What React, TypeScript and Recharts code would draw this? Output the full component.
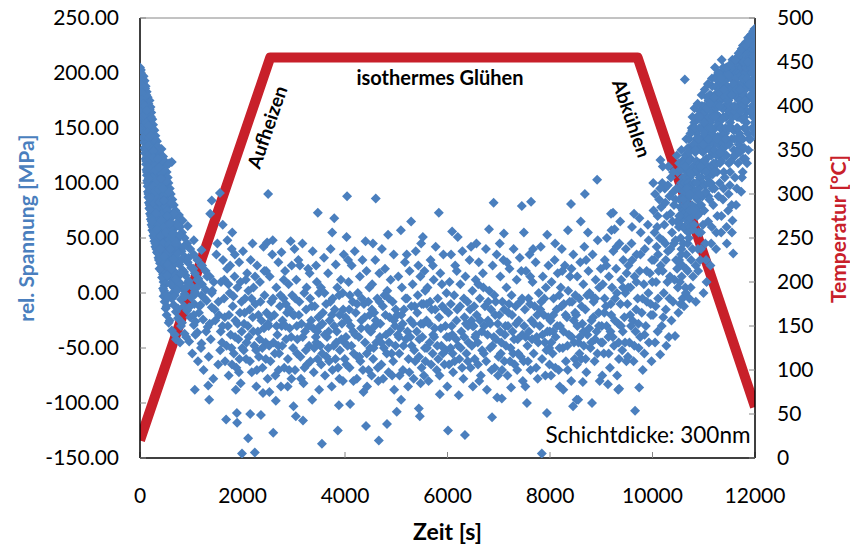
import { ComposedChart, Scatter, Line, XAxis, YAxis, ReferenceLine, ReferenceDot, Label } from 'recharts';

const timeTicks = [0, 2000, 4000, 6000, 8000, 10000, 12000];
const stressTicks = [-150, -100, -50, 0, 50, 100, 150, 200, 250];
const tempTicks = [0, 50, 100, 150, 200, 250, 300, 350, 400, 450, 500];

// temperature program: heating, isothermal hold, cooling
const tempTime = [0, 2540, 9710, 12000];
const tempValue = [20, 455, 455, 58];

// relative stress [t (s), stress (MPa)] during heating
const heatingPoints: [number, number][] = [
  [0, 205], [15, 203], [5, 200], [28, 198], [0, 196], [40, 194], [70, 197], [8, 191], [50, 189], [90, 193],
  [3, 187], [35, 185], [75, 184], [110, 188], [12, 182], [55, 180], [95, 179], [130, 183], [18, 177], [60, 175],
  [105, 174], [150, 178], [22, 172], [70, 170], [115, 169], [165, 172], [185, 175], [25, 167], [80, 165], [125, 164],
  [175, 166], [205, 169], [30, 162], [90, 160], [140, 159], [190, 161], [220, 164], [40, 157], [100, 155], [150, 154],
  [200, 156], [240, 158], [48, 152], [110, 150], [165, 149], [215, 151], [255, 153], [58, 147], [120, 145], [180, 144],
  [230, 146], [280, 148], [68, 142], [130, 140], [190, 139], [250, 141], [300, 143], [78, 137], [140, 135], [205, 134],
  [265, 136], [330, 138], [88, 132], [150, 130], [215, 129], [280, 131], [350, 133], [98, 127], [160, 125], [230, 124],
  [300, 126], [370, 128], [420, 131], [108, 122], [170, 120], [240, 119], [315, 121], [390, 123], [450, 124], [118, 117],
  [185, 115], [255, 114], [330, 116], [405, 118], [480, 120], [620, 119], [125, 112], [195, 110], [270, 109], [345, 111],
  [420, 113], [500, 115], [570, 118], [135, 107], [210, 105], [285, 104], [360, 106], [440, 108], [520, 110], [142, 102],
  [220, 100], [300, 99], [380, 101], [460, 103], [540, 105], [150, 97], [230, 95], [315, 94], [395, 96], [475, 98],
  [555, 100], [155, 92], [240, 90], [325, 89], [410, 91], [495, 93], [580, 95], [162, 87], [250, 85], [340, 84],
  [425, 86], [510, 88], [600, 90], [172, 82], [262, 80], [352, 79], [445, 81], [530, 83], [630, 85], [182, 77],
  [275, 75], [368, 74], [460, 76], [550, 78], [660, 80], [195, 72], [290, 70], [385, 69], [480, 71], [575, 73],
  [690, 75], [760, 71], [210, 67], [305, 65], [400, 64], [500, 66], [600, 68], [720, 70], [830, 66], [225, 62],
  [320, 60], [420, 59], [520, 61], [625, 63], [750, 65], [240, 57], [340, 55], [440, 54], [545, 56], [655, 58],
  [780, 60], [930, 61], [260, 52], [360, 50], [465, 49], [570, 51], [685, 53], [820, 55], [280, 47], [385, 45],
  [490, 44], [600, 46], [720, 48], [870, 50], [1050, 48], [300, 42], [410, 40], [520, 39], [635, 41], [760, 43],
  [920, 45], [330, 37], [440, 35], [555, 34], [675, 36], [810, 38], [980, 40], [1200, 39], [360, 32], [470, 30],
  [590, 29], [720, 31], [870, 33], [1050, 35], [390, 27], [500, 25], [630, 24], [770, 26], [930, 28], [1120, 30],
  [420, 22], [540, 20], [680, 19], [830, 21], [1000, 23], [1200, 25], [450, 17], [580, 15], [730, 14], [890, 16],
  [1070, 18], [1280, 20], [470, 12], [620, 10], [780, 9], [950, 11], [1140, 13], [1360, 15], [480, 7], [660, 5],
  [830, 4], [1010, 6], [1210, 8], [1440, 10], [470, 2], [640, 0], [870, -1], [1070, 1], [1280, 3], [460, -3],
  [620, -5], [800, -6], [1000, -4], [1200, -2], [1400, 0], [480, -8], [660, -11], [860, -12], [1060, -10], [1300, -7],
  [500, -14], [700, -17], [920, -16], [1150, -18], [1400, -13], [520, -20], [740, -23], [980, -22], [1230, -24], [560, -27],
  [800, -30], [1050, -29], [1320, -31], [620, -34], [870, -37], [1120, -36], [700, -42], [780, -45], [960, -44], [1200, -46],
  [1400, 84], [1370, 72], [1560, 91], [1020, -55], [1080, -38], [1130, -62], [1190, -50], [1240, -70], [1290, -35], [1340, -58],
  [1380, -42], [1430, -78], [1470, -25], [1050, -20], [1110, 5], [1160, -12], [1210, 25], [1260, -5], [1310, 15], [1360, -28],
  [1410, 2], [1455, -15], [1490, 35], [1070, -88], [1330, -84], [1350, -97],
  [10, 202], [20, 194], [60, 191], [100, 186], [30, 180], [80, 177], [125, 180], [40, 170], [95, 167], [150, 170],
  [190, 167], [50, 160], [115, 157], [170, 158], [215, 160], [60, 150], [135, 148], [200, 147], [250, 149], [80, 140],
  [160, 138], [225, 137], [290, 140], [100, 130], [180, 128], [250, 127], [325, 130], [120, 120], [200, 118], [280, 117],
  [360, 120], [430, 121], [135, 110], [220, 108], [310, 107], [395, 109], [470, 112], [150, 100], [245, 98], [340, 97],
  [430, 99], [515, 102], [165, 90], [270, 88], [370, 87], [465, 89], [560, 92], [190, 80], [300, 78], [405, 77],
  [505, 79], [610, 82], [215, 70], [330, 68], [445, 67], [550, 69], [660, 72], [245, 60], [365, 58], [485, 57],
  [600, 59], [720, 62], [280, 50], [405, 48], [530, 47], [650, 49], [780, 52], [320, 40], [450, 38], [580, 37],
  [700, 39], [850, 42], [370, 30], [500, 28], [640, 27], [780, 29], [950, 32], [420, 20], [560, 18], [700, 17],
  [860, 19], [1040, 22], [460, 10], [600, 8], [760, 7], [930, 9], [1120, 12], [490, 0], [680, -2], [880, -3],
  [1080, -1], [520, -12], [740, -14], [960, -13], [1180, -11], [580, -25], [820, -27], [1080, -26], [680, -38], [900, -40],
  [5, 199], [12, 193], [25, 189], [45, 182], [35, 176], [65, 172], [50, 166], [85, 170], [75, 161], [105, 163],
  [130, 166], [90, 153], [125, 155], [160, 152], [110, 143], [145, 146], [175, 141], [210, 143], [125, 133], [170, 134],
  [200, 126], [235, 131], [265, 129], [140, 124], [190, 122], [220, 113], [265, 123], [295, 115], [345, 122], [160, 114],
  [240, 105], [300, 112], [330, 102], [375, 114], [410, 104], [170, 104], [200, 94], [260, 97], [290, 92], [360, 94],
  [400, 85], [445, 95], [185, 86], [220, 78], [280, 82], [320, 76], [380, 83], [420, 72], [470, 84], [520, 75],
  [200, 76], [250, 68], [310, 72], [350, 62], [420, 66], [470, 60], [530, 70], [580, 63], [230, 65], [270, 55],
  [330, 58], [400, 52], [450, 45], [510, 55], [570, 44], [640, 54], [700, 46], [300, 45], [350, 36], [400, 40],
  [470, 33], [540, 26], [600, 40], [660, 31], [740, 36], [380, 22], [430, 14], [520, 16], [610, 22], [700, 12],
  [800, 18], [450, 4], [550, -4], [720, 2], [900, 5],
];

// relative stress during the isothermal hold
const plateauPoints: [number, number][] = [
  [1510, 45], [1540, -20], [1580, 10], [1600, -45], [1620, 30], [1640, -5], [1660, -62], [1680, -115], [1700, 22], [1715, -30],
  [1730, -75], [1750, 0], [1770, -38], [1790, 40], [1800, 55], [1810, -12], [1830, -55], [1845, 15], [1860, -25], [1870, -88],
  [1880, -68], [1890, -109], [1895, -118], [1900, 5], [1920, -42], [1935, 28], [1950, -18], [1965, -82], [1980, -8], [1990, -146],
  [1995, -50], [1525, -65], [1575, -35], [1655, -22], [1725, 8], [1785, -50], [1850, 35], [1940, -60], [1615, 62], [1705, 48],
  [1530, -8], [1565, -52], [1610, -30], [1645, 12], [1690, -48], [1735, -20], [1760, 25], [1795, -65], [1825, -3], [1855, -40],
  [1905, -28], [1930, -72], [1960, 10], [1985, -35],
  [2010, 38], [2030, -28], [2050, -5], [2070, -60], [2090, 18], [2110, -132], [2120, -40], [2140, -15], [2150, -110], [2160, 30],
  [2180, -72], [2200, -22], [2215, 5], [2230, -48], [2240, -145], [2250, -10], [2270, -85], [2285, 25], [2300, -35], [2320, -58],
  [2340, 10], [2360, -111], [2370, -25], [2390, -68], [2400, -91], [2410, 42], [2430, -2], [2450, -45], [2470, -18], [2480, 46],
  [2490, -78], [2500, 90], [2025, -52], [2065, 12], [2105, -30], [2195, 45], [2265, -52], [2335, -42], [2420, -32], [2460, 20],
  [2040, -18], [2080, -45], [2115, 2], [2145, -62], [2175, -5], [2210, -35], [2245, 15], [2280, -70], [2310, -20], [2350, -8],
  [2385, -50], [2425, 20], [2455, -60], [2495, -28],
  [2510, -30], [2530, 15], [2545, -62], [2560, -8], [2580, 35], [2600, -127], [2605, -45], [2620, -20], [2640, -75], [2650, -98],
  [2660, 5], [2680, -38], [2700, 28], [2715, -55], [2730, -12], [2750, -85], [2760, 37], [2780, -25], [2800, -5], [2815, -68],
  [2830, 20], [2850, -42], [2870, -18], [2885, -60], [2900, 8], [2920, -32], [2940, 47], [2955, -78], [2970, -2], [2985, -50],
  [2995, -103], [2525, -90], [2590, 48], [2695, -48], [2765, -30], [2845, -10], [2910, -70], [2960, 25],
  [2520, -48], [2555, -22], [2595, -5], [2630, -55], [2665, -30], [2705, -70], [2740, -2], [2775, -48], [2805, 12], [2840, -30],
  [2880, -85], [2915, -15], [2950, -40], [2990, -20],
  [3010, -20], [3025, -70], [3040, -112], [3050, 12], [3070, -42], [3090, 30], [3110, -8], [3130, -58], [3150, -28], [3170, 45],
  [3180, -116], [3190, -82], [3205, 0], [3220, -35], [3240, -15], [3260, -65], [3280, 22], [3300, -48], [3320, -5], [3340, -25],
  [3360, -97], [3370, 38], [3390, -72], [3410, -12], [3430, -40], [3450, 10], [3465, -60], [3470, 73], [3480, -22], [3495, -88],
  [3060, -30], [3120, 25], [3235, -52], [3310, 18], [3380, -32], [3440, -45], [3015, 40],
  [3030, -5], [3065, -55], [3100, -20], [3140, -78], [3175, -40], [3210, -68], [3250, 5], [3290, -30], [3325, -62], [3355, -12],
  [3400, -50], [3435, 25], [3460, -35], [3490, 0],
  [3510, -30], [3530, 5], [3550, -137], [3555, -55], [3570, -18], [3590, 32], [3610, -75], [3630, -10], [3650, -40], [3670, 18],
  [3690, -62], [3700, -25], [3720, 40], [3740, -85], [3750, 55], [3760, -5], [3780, -48], [3790, 68], [3800, -15], [3820, 26],
  [3840, -35], [3860, -125], [3865, -68], [3880, -102], [3885, -2], [3900, -52], [3920, 12], [3940, -28], [3960, -80], [3975, 35],
  [3990, -45], [3535, -65], [3605, -38], [3675, -50], [3745, -20], [3815, -60], [3895, -20], [3955, 0],
  [3520, -48], [3560, -28], [3600, 0], [3640, -58], [3680, -35], [3715, -8], [3755, -70], [3790, -30], [3830, -45], [3850, 5],
  [3890, -78], [3930, -42], [3965, -15], [3995, -60],
  [4010, -22], [4030, 51], [4040, 88], [4050, -48], [4070, 10], [4090, -68], [4100, -101], [4110, -30], [4130, 25], [4150, -8],
  [4170, -55], [4190, 38], [4210, -18], [4230, -78], [4250, 0], [4270, -40], [4290, 15], [4300, -62], [4320, -25], [4340, 30],
  [4360, -90], [4370, -10], [4390, -45], [4400, 47], [4410, -121], [4420, 20], [4440, -32], [4460, -70], [4475, 5], [4490, -50],
  [4020, -40], [4080, -15], [4160, -35], [4240, -58], [4330, -5], [4430, -85], [4480, -20], [4060, 30],
  [4025, -65], [4055, -25], [4095, -2], [4125, -48], [4165, -80], [4200, -38], [4235, -10], [4280, -58], [4315, -32], [4350, -70],
  [4385, -22], [4425, -55], [4455, -8], [4495, -35],
  [4510, -35], [4530, 8], [4550, -60], [4570, -18], [4590, 30], [4600, 86], [4610, -45], [4630, -5], [4650, -80], [4660, -134],
  [4670, 18], [4690, -28], [4710, -65], [4720, 40], [4740, -12], [4760, -50], [4780, 22], [4800, -38], [4820, -119], [4825, 2],
  [4840, 53], [4850, -72], [4870, -22], [4890, 12], [4910, -55], [4930, -8], [4950, 35], [4960, -88], [4975, -30], [4990, -15],
  [4520, -75], [4580, -30], [4680, -40], [4770, -2], [4860, -45], [4940, -62], [4545, 45],
  [4525, -15], [4560, -50], [4600, -25], [4640, -68], [4675, -8], [4705, -45], [4745, -78], [4790, -20], [4815, -55], [4855, -5],
  [4880, -35], [4920, -75], [4955, -25], [4985, -48],
  [5010, -108], [5020, -20], [5040, 15], [5060, -55], [5080, -32], [5090, 57], [5095, -97], [5110, 5], [5130, -70], [5150, -15],
  [5170, 28], [5190, -42], [5210, -5], [5230, -85], [5240, -60], [5260, 20], [5280, -25], [5290, 65], [5300, -48], [5320, 8],
  [5340, -78], [5360, -12], [5380, 38], [5400, -35], [5420, -2], [5440, -105], [5445, -58], [5460, -112], [5470, 15], [5480, -28],
  [5495, -68], [5050, -40], [5125, -28], [5205, 35], [5275, -40], [5350, -52], [5430, 25], [5485, 45],
  [5030, -38], [5065, -75], [5100, -20], [5140, -48], [5180, -5], [5220, -35], [5255, -72], [5295, -12], [5330, -28], [5370, -62],
  [5410, -18], [5450, -42], [5475, -82], [5498, -10],
  [5510, -40], [5520, 51], [5530, -10], [5550, 20], [5570, -62], [5590, -25], [5610, 5], [5630, -80], [5650, -45], [5670, 30],
  [5690, -15], [5710, -55], [5730, 12], [5750, -32], [5770, 42], [5790, -70], [5810, -5], [5830, 73], [5835, -22], [5850, -92],
  [5860, 18], [5880, -48], [5900, -12], [5920, 35], [5940, -65], [5960, -30], [5980, 0], [5995, -85], [5540, -75], [5600, -50],
  [5660, -8], [5740, -40], [5820, -60], [5890, 8], [5970, -52], [5715, 25],
  [5525, -28], [5560, -50], [5595, -10], [5640, -28], [5680, -65], [5720, -38], [5760, -15], [5800, -48], [5845, -75], [5870, -32],
  [5910, -55], [5950, -15], [5985, -40], [5565, 2],
  [6010, -125], [6020, -18], [6040, 10], [6060, -50], [6080, -30], [6090, 56], [6110, -72], [6130, -2], [6150, 25], [6170, -42],
  [6190, -15], [6200, 51], [6220, -93], [6230, -60], [6250, 8], [6270, -35], [6290, 38], [6310, -78], [6330, -22], [6340, -129],
  [6350, 15], [6370, -55], [6390, -8], [6410, -45], [6430, 30], [6450, -68], [6470, -25], [6485, 2], [6495, -85], [6035, -40],
  [6100, -55], [6180, 20], [6260, -50], [6320, -5], [6400, -30], [6460, 42], [6070, 35],
  [6030, -65], [6065, -10], [6095, -38], [6140, -62], [6175, -25], [6210, -48], [6245, -12], [6285, -68], [6325, -40], [6360, -28],
  [6395, -62], [6440, -15], [6475, -48], [6490, -30],
  [6510, -30], [6530, -60], [6550, 12], [6570, -20], [6590, -45], [6610, 28], [6630, -5], [6650, -75], [6670, -35], [6690, 18],
  [6710, -55], [6730, -12], [6750, 40], [6770, -88], [6790, -25], [6810, 58], [6815, 2], [6830, -50], [6850, -15], [6870, -113],
  [6880, 25], [6900, 82], [6905, -40], [6920, -68], [6940, -8], [6960, 35], [6970, -95], [6980, -28], [6995, -58], [6540, -40],
  [6620, -80], [6700, 5], [6780, -38], [6860, -70], [6930, -20], [6565, 45],
  [6520, -12], [6555, -38], [6595, -65], [6635, -25], [6675, -52], [6715, -30], [6755, -62], [6795, -8], [6835, -28], [6875, -48],
  [6915, -2], [6945, -42], [6985, -75], [6600, 8],
  [7010, -20], [7030, 15], [7050, -45], [7060, -96], [7070, -8], [7090, 30], [7100, 54], [7110, -62], [7130, -30], [7150, 5],
  [7170, -75], [7190, -18], [7210, 22], [7230, -50], [7240, -86], [7250, -2], [7270, -35], [7290, 40], [7310, -65], [7330, -12],
  [7350, 12], [7370, -42], [7390, -25], [7410, 32], [7430, -58], [7450, 79], [7455, -5], [7470, -80], [7490, 55], [7495, -30],
  [7040, -55], [7120, -38], [7200, -10], [7280, -55], [7360, -70], [7440, 20], [7020, 45],
  [7025, -35], [7065, -70], [7105, -15], [7140, -48], [7180, -30], [7220, -62], [7260, -20], [7300, -42], [7340, -28], [7380, -55],
  [7420, -8], [7460, -38], [7485, -62], [7160, 28],
  [7510, -15], [7530, 20], [7550, -100], [7560, -48], [7580, -5], [7600, 35], [7620, -70], [7630, 83], [7640, -25], [7660, 10],
  [7680, -55], [7700, -12], [7720, 28], [7740, -40], [7760, -78], [7780, 0], [7800, -30], [7820, 42], [7840, -146], [7845, -60],
  [7860, 15], [7880, -20], [7900, -45], [7920, 5], [7940, -109], [7945, 53], [7950, -35], [7970, 25], [7990, -65], [7520, -85],
  [7590, -35], [7670, 40], [7750, -20], [7830, -8], [7910, -75], [7985, -50],
  [7525, -40], [7570, -62], [7610, -10], [7650, -42], [7690, -28], [7730, -68], [7770, -45], [7810, -15], [7855, -38], [7890, -5],
  [7930, -52], [7965, -22], [7995, -35], [7615, 15],
  [8010, -25], [8030, 10], [8050, -55], [8070, -5], [8090, 30], [8110, -40], [8130, -15], [8150, 18], [8170, -70], [8190, -85],
  [8195, -30], [8210, 5], [8230, 40], [8250, -50], [8270, -10], [8290, 25], [8310, -62], [8330, -22], [8350, 57], [8355, 2],
  [8370, -38], [8390, 15], [8410, 81], [8415, -80], [8430, -8], [8450, -103], [8455, 35], [8470, -45], [8490, -18], [8020, -75],
  [8100, 45], [8180, -2], [8260, -88], [8340, -48], [8420, 22], [8480, -60], [8060, -35],
  [8025, -45], [8065, -20], [8105, -68], [8140, -30], [8185, -50], [8225, -12], [8265, -35], [8305, -20], [8345, -70], [8385, -8],
  [8425, -40], [8465, -25], [8495, -2], [8240, 20],
  [8510, -20], [8520, -97], [8530, 15], [8550, -97], [8555, -45], [8570, -5], [8590, 28], [8600, 65], [8610, -60], [8630, -28],
  [8640, -81], [8650, 8], [8670, 42], [8680, 90], [8690, -15], [8710, -72], [8730, -38], [8750, 20], [8770, 0], [8790, -50],
  [8810, -25], [8820, -100], [8830, 35], [8850, -8], [8870, -62], [8890, 12], [8910, -35], [8920, 103], [8930, 48], [8950, -18],
  [8970, -80], [8990, 22], [8525, -65], [8580, -40], [8660, -48], [8740, 55], [8800, -2], [8880, -42], [8960, 5],
  [8535, -30], [8575, -55], [8615, -12], [8655, -35], [8695, -60], [8725, -2], [8765, -32], [8805, -45], [8845, -22], [8885, -5],
  [8925, -55], [8955, -30], [8995, -45], [8705, 30],
  [9010, -30], [9030, 8], [9050, -55], [9070, 30], [9090, -12], [9110, 50], [9130, -83], [9140, -40], [9150, 15], [9170, -68],
  [9190, 72], [9195, -20], [9200, 57], [9210, 5], [9230, 73], [9235, 38], [9250, -48], [9270, -5], [9290, 22], [9310, -75],
  [9330, -88], [9335, -28], [9350, -87], [9355, 45], [9370, 65], [9375, -10], [9390, 12], [9410, -52], [9430, 30], [9450, -22],
  [9470, 0], [9490, -62], [9020, -75], [9100, 25], [9180, -35], [9260, 58], [9340, -45], [9420, -35], [9480, 40], [9060, -18],
  [9025, -45], [9065, -5], [9105, -30], [9145, -55], [9185, -10], [9225, -40], [9265, -25], [9305, 0], [9345, -60], [9385, -30],
  [9425, 5], [9465, -45], [9495, 18], [9300, 42],
  [9510, -10], [9530, 25], [9550, -45], [9570, 5], [9590, 45], [9610, -25], [9630, -62], [9640, 72], [9650, 15], [9660, -107],
  [9670, -35], [9690, 35], [9710, -5], [9730, -50], [9740, -86], [9750, 20], [9770, 55], [9790, -18], [9810, -70], [9830, 8],
  [9850, 40], [9870, -30], [9890, -8], [9910, 62], [9930, -45], [9950, 18], [9970, -20], [9990, 30], [9520, -58], [9600, 60],
  [9680, -15], [9760, -40], [9840, -55], [9920, 0], [9980, -62], [9580, -30],
  [9525, 5], [9565, -20], [9605, 30], [9645, -48], [9685, 10], [9725, -28], [9765, 35], [9805, -5], [9845, -38], [9885, 20],
  [9925, 48], [9965, -10], [9995, 10], [9745, 68],
  [10010, -20], [10015, 100], [10030, 30], [10050, -45], [10070, 10], [10090, 60], [10110, -5], [10130, 85], [10150, -56], [10155, 121],
  [10160, 25], [10180, -30], [10200, 48], [10220, 0], [10240, 95], [10260, -15], [10280, 70], [10300, 38], [10320, -40], [10340, 15],
  [10360, 105], [10380, 55], [10400, -8], [10420, 80], [10440, -39], [10460, 30], [10480, 65], [10490, 110], [10020, 75], [10100, -35],
  [10190, 100], [10270, -48], [10350, 40], [10430, 12], [10080, 42], [10410, 92], [10230, 62],
  [10040, 55], [10060, -12], [10120, 20], [10170, 78], [10210, -22], [10250, 45], [10290, 10], [10330, 88], [10370, -25], [10390, 65],
  [10450, 48], [10470, 95], [10495, 5], [10140, 50], [10310, 115], [10475, 125],
  [10050, 90], [10100, 70], [10150, 95], [10200, 115], [10250, 82], [10300, 98], [10350, 72], [10400, 110], [10450, 85], [10110, 35],
  [10260, 30], [10420, 45], [10200, 20], [10330, -5], [10480, 22],
];

// relative stress during cooling
const coolingPoints: [number, number][] = [
  [10505, -18], [10515, 60], [10525, 95], [10535, 10], [10545, 78], [10555, 112], [10565, 40], [10575, 68], [10585, -5], [10590, 88],
  [10595, 105], [10510, 28], [10550, 50], [10580, 120], [10630, 194],
  [10520, 30], [10530, 85], [10540, 62], [10560, 100], [10570, 15], [10590, 75], [10600, 45], [10520, 118], [10545, -10], [10565, 130],
  [10585, 25], [10598, 98],
  [10605, 72], [10615, -12], [10625, 100], [10635, 58], [10645, 125], [10655, 22], [10665, 85], [10675, 110], [10685, 45], [10690, 65],
  [10695, 132], [10610, 92], [10640, 5], [10670, 118], [10680, 78],
  [10620, 60], [10630, 80], [10650, 105], [10660, 35], [10670, 70], [10690, 98], [10700, 55], [10620, 118], [10650, 0], [10660, 140],
  [10685, 20], [10698, 112],
  [10705, 80], [10715, 140], [10720, -5], [10725, 105], [10735, 68], [10745, 122], [10755, 30], [10765, 95], [10775, 148], [10785, 72],
  [10795, 115], [10710, 50], [10740, 88], [10760, 130], [10790, 15],
  [10710, 100], [10730, 60], [10750, 110], [10770, 80], [10780, 40], [10795, 135], [10800, 92], [10715, 120], [10745, 5], [10765, 150],
  [10790, 58], [10725, 75],
  [10805, 100], [10815, 155], [10825, 78], [10835, 128], [10845, -8], [10855, 110], [10865, 145], [10875, 85], [10885, 40], [10895, 135],
  [10810, 62], [10840, 92], [10860, 120], [10880, 158], [10890, 20],
  [10820, 110], [10830, 88], [10850, 140], [10870, 70], [10880, 115], [10895, 100], [10900, 55], [10815, 135], [10845, 25], [10865, 160],
  [10885, 78], [10825, 150],
  [10905, 95], [10915, 150], [10925, 118], [10935, 165], [10945, 55], [10955, 105], [10965, 140], [10975, 88], [10985, 128], [10995, 0],
  [10910, 72], [10930, 30], [10950, 160], [10970, 112], [10990, 148],
  [10920, 105], [10940, 130], [10950, 80], [10960, 150], [10980, 100], [10995, 160], [11000, 120], [10915, 90], [10945, 40], [10965, 170],
  [10985, 62], [10925, 140],
  [11005, 130], [11015, 170], [11025, 98], [11035, 145], [11045, 115], [11055, 10], [11065, 160], [11075, 105], [11085, 138], [11095, 175],
  [11010, 75], [11030, 45], [11050, 122], [11070, 152], [11090, 88],
  [11020, 120], [11040, 92], [11050, 160], [11060, 135], [11080, 115], [11095, 150], [11100, 100], [11015, 145], [11045, 30], [11065, 178],
  [11085, 65], [11025, 165],
  [11105, 112], [11115, 160], [11125, 140], [11135, 180], [11145, 125], [11155, 60], [11165, 150], [11175, 108], [11185, 170], [11195, 135],
  [11110, 85], [11130, 25], [11150, 165], [11170, 95], [11190, 118],
  [11120, 130], [11140, 100], [11150, 175], [11160, 145], [11180, 128], [11195, 160], [11200, 115], [11115, 180], [11145, 45], [11165, 188],
  [11185, 80], [11125, 155],
  [11205, 130], [11215, 178], [11220, 205], [11225, 150], [11235, 118], [11245, 188], [11255, 162], [11265, 70], [11275, 142], [11285, 175],
  [11295, 125], [11210, 95], [11240, 40], [11260, 110], [11280, 155], [11290, 185],
  [11220, 140], [11240, 168], [11250, 125], [11260, 182], [11280, 135], [11295, 160], [11300, 192], [11215, 110], [11245, 55], [11265, 198],
  [11285, 88], [11225, 172],
  [11305, 160], [11315, 192], [11325, 138], [11335, 175], [11345, 120], [11350, 212], [11355, 150], [11365, 185], [11375, 85], [11385, 168],
  [11395, 132], [11310, 100], [11340, 55], [11360, 195], [11380, 145], [11390, 110],
  [11320, 150], [11340, 178], [11350, 130], [11360, 168], [11380, 160], [11395, 190], [11400, 140], [11315, 118], [11345, 70], [11365, 202],
  [11385, 95], [11325, 182],
  [11405, 178], [11415, 145], [11425, 198], [11435, 160], [11445, 125], [11455, 188], [11465, 172], [11475, 75], [11485, 150], [11495, 200],
  [11410, 105], [11430, 135], [11450, 45], [11470, 162], [11490, 118],
  [11420, 160], [11440, 185], [11450, 140], [11460, 200], [11480, 175], [11495, 135], [11500, 165], [11415, 125], [11445, 60], [11465, 195],
  [11485, 90], [11425, 150],
  [11505, 185], [11515, 155], [11525, 205], [11535, 170], [11545, 140], [11550, 55], [11555, 195], [11565, 160], [11575, 36], [11585, 182],
  [11595, 125], [11510, 98], [11530, 120], [11560, 66], [11580, 148], [11590, 200],
  [11520, 170], [11540, 195], [11550, 150], [11560, 180], [11580, 165], [11595, 205], [11600, 140], [11515, 110], [11545, 80], [11565, 200],
  [11585, 130], [11525, 185],
  [11605, 190], [11615, 165], [11625, 210], [11635, 178], [11645, 150], [11655, 200], [11665, 130], [11675, 185], [11685, 160], [11695, 212],
  [11610, 105], [11630, 80], [11650, 140], [11670, 118], [11690, 175],
  [11620, 180], [11640, 200], [11650, 160], [11660, 190], [11680, 170], [11695, 145], [11700, 205], [11615, 125], [11645, 95], [11665, 215],
  [11685, 135], [11625, 195],
  [11705, 200], [11715, 175], [11725, 220], [11735, 188], [11745, 158], [11755, 210], [11760, 110], [11765, 140], [11775, 195], [11785, 170],
  [11795, 222], [11710, 128], [11730, 92], [11750, 182], [11770, 122], [11790, 150],
  [11720, 190], [11740, 205], [11750, 170], [11760, 215], [11780, 180], [11795, 160], [11800, 200], [11715, 140], [11745, 105], [11765, 225],
  [11785, 132], [11725, 198],
  [11805, 208], [11815, 185], [11825, 228], [11835, 198], [11845, 165], [11855, 218], [11865, 145], [11875, 205], [11885, 178], [11895, 230],
  [11810, 122], [11830, 155], [11850, 190], [11870, 130], [11890, 212],
  [11820, 200], [11840, 215], [11850, 175], [11860, 225], [11880, 190], [11895, 165], [11900, 210], [11815, 150], [11845, 118], [11865, 232],
  [11885, 140], [11825, 205],
  [11905, 215], [11915, 192], [11925, 235], [11935, 205], [11945, 170], [11955, 225], [11965, 160], [11975, 210], [11985, 185], [11990, 240],
  [11995, 155], [11910, 140], [11930, 178], [11950, 200], [11970, 230], [11980, 165],
  [11920, 205], [11940, 222], [11950, 185], [11960, 235], [11975, 195], [11990, 175], [11998, 220], [11915, 165], [11945, 150], [11965, 238],
  [11985, 200], [11925, 215], [11998, 160], [11995, 190],
  [10520, 70], [10560, 35], [10600, 85], [10640, 115], [10680, 95], [10700, 128], [10720, 90], [10740, 145], [10760, 108], [10780, 160],
  [10800, 75], [10820, 168], [10840, 130], [10860, 100], [10880, 172], [10900, 140], [10920, 160], [10940, 115], [10960, 180], [10980, 135],
  [11000, 155], [11020, 185], [11040, 110], [11060, 168], [11080, 190], [11100, 140], [11120, 172], [11140, 150], [11160, 195], [11180, 160],
  [11200, 178], [11220, 160], [11240, 195], [11260, 140], [11280, 200], [11300, 170], [11320, 128], [11340, 195], [11360, 158], [11380, 205],
  [11400, 185], [11420, 140], [11440, 205], [11460, 180], [11480, 198], [11500, 150], [11520, 208], [11540, 180], [11560, 212], [11580, 190],
  [11600, 170], [11620, 212], [11640, 185], [11660, 150], [11680, 218], [11700, 185], [11720, 165], [11740, 222], [11760, 195], [11780, 210],
  [11800, 175], [11820, 225], [11840, 195], [11860, 210], [11880, 228], [11900, 190], [11920, 180], [11940, 200], [11960, 215], [11980, 225],
  [11998, 205], [11998, 235], [11998, 175], [11995, 145],
];

const stressData = [...heatingPoints, ...plateauPoints, ...coolingPoints].map(([t, s]) => ({ t, s }));
const tempData = tempTime.map((t, i) => ({ t, temp: tempValue[i] }));

const BLUE = '#4A7FBE';
const RED = '#C8202A';
const FONT = 'Lato, "Open Sans", sans-serif';

const Diamond = (props: any) => {
  const { cx, cy } = props;
  if (cx == null || cy == null) return null;
  const r = 5;
  return <path d={`M${cx},${cy - r}L${cx + r},${cy}L${cx},${cy + r}L${cx - r},${cy}Z`} fill={BLUE} />;
};

// text centred on a reference point, optionally rotated
const note = (text: string, angle: number, size: number, weight: number) => (props: any) => {
  const { viewBox } = props;
  const cx = viewBox.x + viewBox.width / 2;
  const cy = viewBox.y + viewBox.height / 2;
  return (
    <text x={cx} y={cy} textAnchor="middle" dominantBaseline="central" fontFamily={FONT} fontSize={size}
      fontWeight={weight} fill="#000" transform={`rotate(${angle} ${cx} ${cy})`}>
      {text}
    </text>
  );
};

const axisTitle = (text: string, color: string, size: number, dx: number, dy: number, angle: number) => (props: any) => {
  const { viewBox } = props;
  const cx = viewBox.x + dx;
  const cy = viewBox.y + dy;
  return (
    <text x={cx} y={cy} textAnchor="middle" dominantBaseline="central" fontFamily={FONT} fontSize={size}
      fontWeight={700} fill={color} transform={`rotate(${angle} ${cx} ${cy})`}>
      {text}
    </text>
  );
};

const tickStyle = { fontSize: 21, fill: '#000', fontFamily: FONT };

export default function App() {
  return (
    <div style={{ position: 'absolute', left: 0, top: 0, width: 850, height: 549, background: '#fff' }}>
      <ComposedChart width={850} height={549} margin={{ top: 18, right: 0, bottom: 0, left: 0 }}>
        <XAxis dataKey="t" type="number" domain={[0, 12000]} ticks={timeTicks} height={91}
          tickSize={-6} tickMargin={36} tick={tickStyle} tickLine={{ stroke: '#868686' }}
          axisLine={{ stroke: '#000', strokeWidth: 1.5 }} allowDataOverflow>
          <Label content={axisTitle('Zeit [s]', '#000', 23, 307.5, 73, 0)} />
        </XAxis>
        <YAxis yAxisId="left" dataKey="s" type="number" domain={[-150, 250]} ticks={stressTicks} width={140}
          tickFormatter={(v: number) => v.toFixed(2)} tickSize={-6} tickMargin={27} tick={tickStyle}
          tickLine={{ stroke: '#868686' }} axisLine={{ stroke: '#000', strokeWidth: 1.5 }} allowDataOverflow>
          <Label content={axisTitle('rel. Spannung [MPa]', BLUE, 21, 25, 210, -90)} />
        </YAxis>
        <YAxis yAxisId="right" orientation="right" dataKey="temp" type="number" domain={[0, 500]} ticks={tempTicks}
          width={95} tickSize={-6} tickMargin={28} tick={tickStyle} tickLine={{ stroke: '#868686' }}
          axisLine={{ stroke: '#000', strokeWidth: 1.5 }} allowDataOverflow>
          <Label content={axisTitle('Temperatur [°C]', RED, 21, 82, 211, -90)} />
        </YAxis>
        <ReferenceLine yAxisId="left" y={250} stroke="#868686" />
        <Scatter yAxisId="left" data={stressData} dataKey="s" shape={Diamond} isAnimationActive={false} />
        <Line yAxisId="right" data={tempData} dataKey="temp" type="linear" stroke={RED} strokeWidth={10}
          strokeLinejoin="round" dot={false} activeDot={false} isAnimationActive={false} />
        <ReferenceDot yAxisId="left" x={2470} y={151} r={1} fill="none" stroke="none" label={note('Aufheizen', -71, 19, 700)} />
        <ReferenceDot yAxisId="left" x={5853} y={196} r={1} fill="none" stroke="none" label={note('isothermes Glühen', 0, 20, 700)} />
        <ReferenceDot yAxisId="left" x={9600} y={159} r={1} fill="none" stroke="none" label={note('Abkühlen', 71, 19, 700)} />
        <ReferenceDot yAxisId="left" x={9911} y={-129} r={1} fill="none" stroke="none" label={note('Schichtdicke: 300nm', 0, 22.5, 400)} />
      </ComposedChart>
    </div>
  );
}
